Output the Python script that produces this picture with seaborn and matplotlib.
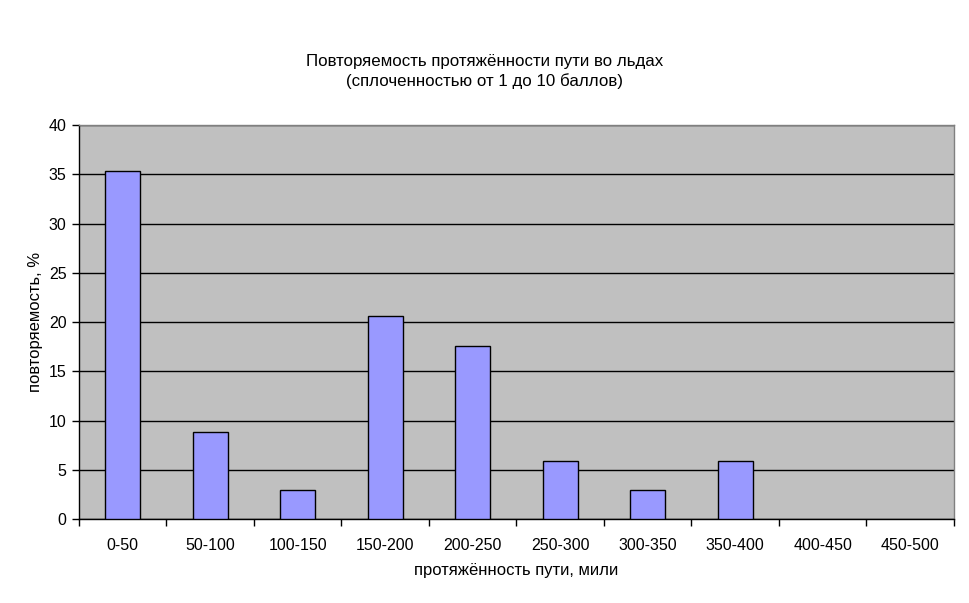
import numpy as np
import pandas as pd
import matplotlib
matplotlib.use("Agg")
import matplotlib.pyplot as plt
import seaborn as sns

# данные с графика
categories = ['0-50', '50-100', '100-150', '150-200', '200-250',
              '250-300', '300-350', '350-400', '400-450', '450-500']
values = [35.3, 8.8, 2.9, 20.6, 17.6, 5.9, 2.9, 5.9, 0.0, 0.0]
y_ticks = [0, 5, 10, 15, 20, 25, 30, 35, 40]

df = pd.DataFrame({'range': categories, 'pct': values})

sns.set_style("white")
plt.rcParams['font.family'] = ['Liberation Sans', 'DejaVu Sans']
plt.rcParams['text.color'] = 'black'
plt.rcParams['axes.labelcolor'] = 'black'
plt.rcParams['xtick.color'] = 'black'
plt.rcParams['ytick.color'] = 'black'

fig = plt.figure(figsize=(9.69, 6.03), dpi=100)
ax = fig.add_axes([0.0815, 0.1393, 0.903, 0.6534])
ax.set_facecolor('#C0C0C0')

sns.barplot(data=df, x='range', y='pct', color='#9999FF', width=0.4,
            edgecolor='black', linewidth=1, saturation=1, ax=ax, zorder=3)

# пустые столбцы без контура
for p in ax.patches:
    if p.get_height() == 0:
        p.set_linewidth(0)

ax.set_ylim(0, 40)
ax.set_xlim(-0.5, len(categories) - 0.5)
ax.set_yticks(y_ticks)
ax.yaxis.grid(True, color='black', linewidth=1, zorder=1)
ax.set_axisbelow(True)

# засечки между категориями
ax.set_xticks(np.arange(-0.5, len(categories), 1), minor=True)
ax.tick_params(axis='x', which='major', length=0, pad=14, labelsize=11.5)
ax.tick_params(axis='x', which='minor', length=5, width=1, color='black',
               direction='out', bottom=True)
ax.tick_params(axis='y', length=5, width=1, color='black', direction='out',
               left=True, labelsize=11.5, pad=4)

for side in ['left', 'bottom']:
    ax.spines[side].set_color('black')
    ax.spines[side].set_linewidth(1)
for side in ['top', 'right']:
    ax.spines[side].set_color('#808080')
    ax.spines[side].set_linewidth(1)

ax.set_xlabel('протяжённость пути, мили', fontsize=12, labelpad=7)
ax.set_ylabel('повторяемость, %', fontsize=12, labelpad=4)

fig.text(0.5, 0.882, 'Повторяемость протяжённости пути во льдах\n(сплоченностью от 1 до 10 баллов)',
         ha='center', va='center', fontsize=12.2, linespacing=1.3)

plt.savefig('out.png', dpi=100)
